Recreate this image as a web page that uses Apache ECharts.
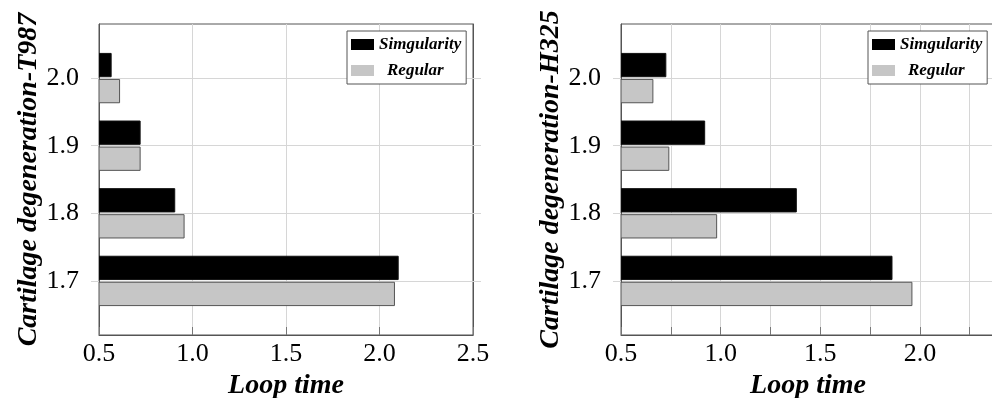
<!DOCTYPE html>
<html>
<head>
<meta charset="utf-8">
<script src="https://cdn.jsdelivr.net/npm/echarts@6/dist/echarts.min.js"></script>
<style>
html,body{margin:0;padding:0;background:#fff;}
#c{width:992px;height:398px;}
</style>
</head>
<body>
<div id="c"></div>
<script>
// ---- data ----
const degreeLevels = [1.7, 1.8, 1.9, 2.0];
const t987Simgularity = [2.10, 0.905, 0.72, 0.565];
const t987Regular     = [2.08, 0.955, 0.72, 0.61];
const h325Simgularity = [1.86, 1.38, 0.92, 0.725];
const h325Regular     = [1.96, 0.98, 0.74, 0.66];
const yTicks = [1.7, 1.8, 1.9, 2.0];
const seriesNames = ['Simgularity', 'Regular'];
const yTitles = ['Cartilage degeneration-T987', 'Cartilage degeneration-H325'];
const xTitle = 'Loop time';

const SERIF = '"Liberation Serif","Times New Roman",serif';
const GRID_LINE = '#d6d6d6';
const FRAME = '#555';

function pairs(vals){ return vals.map((v,i)=>[v, degreeLevels[i]]); }

function makeRender(side, xMin){
  return function(params, api){
    const x = api.value(0), y = api.value(1);
    const a = api.coord([xMin, y]);
    const b = api.coord([x, y]);
    const step = api.size([0, 0.1])[1];
    const h = step * 0.345;
    const gap = step * 0.04;
    const top = side < 0 ? a[1] - gap/2 - h : a[1] + gap/2;
    return {
      type: 'rect',
      shape: { x: a[0], y: top, width: b[0] - a[0], height: h },
      style: api.style()
    };
  };
}

function yAxisPair(gridIndex, title){
  const common = {
    type: 'value', gridIndex: gridIndex, min: 1.62, max: 2.08, splitNumber: 5
  };
  return [
    Object.assign({}, common, {
      position: 'left',
      name: title, nameLocation: 'middle', nameGap: 56, nameRotate: 90,
      nameTextStyle: { fontFamily: SERIF, fontSize: 28, fontWeight: 'bold', fontStyle: 'italic', color: '#000' },
      axisLine: { show: true, lineStyle: { color: FRAME, width: 1 } },
      axisTick: { show: true, inside: false, length: 8, lineStyle: { color: GRID_LINE }, customValues: yTicks },
      axisLabel: { show: true, margin: 20, fontFamily: SERIF, fontSize: 26, color: '#000',
                   customValues: yTicks, formatter: v => v.toFixed(1) },
      splitLine: { show: true, lineStyle: { color: GRID_LINE, width: 1 } }
    }),
    Object.assign({}, common, {
      position: 'right',
      axisLine: { show: true, lineStyle: { color: FRAME, width: 1 } },
      axisTick: { show: true, inside: false, length: 8, lineStyle: { color: GRID_LINE }, customValues: yTicks },
      axisLabel: { show: false },
      splitLine: { show: false }
    })
  ];
}

function xAxisFor(gridIndex, max, interval){
  return {
    type: 'value', gridIndex: gridIndex, min: 0.5, max: max, interval: interval,
    name: xTitle, nameLocation: 'middle', nameGap: 33,
    nameTextStyle: { fontFamily: SERIF, fontSize: 28, fontWeight: 'bold', fontStyle: 'italic', color: '#000' },
    axisLine: { show: true, lineStyle: { color: FRAME, width: 1 } },
    axisTick: { show: true, inside: true, length: 8, lineStyle: { color: '#777' } },
    axisLabel: { show: true, margin: 6, fontFamily: SERIF, fontSize: 26, color: '#000',
      showMinLabel: true, showMaxLabel: true,
      formatter: function(v){
        const r = Math.round(v * 2) / 2;
        if (Math.abs(v - r) > 1e-6) return '';
        return r.toFixed(1);
      } },
    splitLine: { show: true, lineStyle: { color: GRID_LINE, width: 1 } }
  };
}

function legendFor(pos){
  return Object.assign({
    orient: 'vertical', top: 31,
    data: seriesNames.map(n => ({ name: n, icon: 'rect' })),
    itemWidth: 23, itemHeight: 11, itemGap: 9,
    padding: [5, 5, 5, 4],
    backgroundColor: '#fff', borderColor: FRAME, borderWidth: 1, borderRadius: 0,
    itemStyle: { borderWidth: 0 },
    formatter: n => n === 'Regular' ? '{r|' + n + '}' : '{s|' + n + '}',
    textStyle: {
      fontFamily: SERIF, fontSize: 17, fontWeight: 'bold', fontStyle: 'italic', color: '#000',
      rich: {
        s: { fontFamily: SERIF, fontSize: 17, fontWeight: 'bold', fontStyle: 'italic', color: '#000' },
        r: { fontFamily: SERIF, fontSize: 17, fontWeight: 'bold', fontStyle: 'italic', color: '#000', padding: [0, 0, 0, 8] }
      }
    }
  }, pos);
}

function barSeries(name, xIdx, yIdx, vals, side, color, border){
  return {
    type: 'custom', name: name, xAxisIndex: xIdx, yAxisIndex: yIdx,
    renderItem: makeRender(side, 0.5),
    encode: { x: 0, y: 1 },
    itemStyle: { color: color, borderColor: border, borderWidth: 1 },
    data: pairs(vals), clip: true, z: 3
  };
}

const gridCommon = { top: 24, width: 374, height: 311, show: true, borderColor: FRAME, borderWidth: 1,
                     backgroundColor: '#fff', containLabel: false, outerBoundsMode: 'none' };

const option = {
  animation: false,
  backgroundColor: '#fff',
  grid: [
    Object.assign({ left: 99 }, gridCommon),
    Object.assign({ left: 621 }, gridCommon)
  ],
  legend: [ legendFor({ left: 347 }), legendFor({ left: 868 }) ],
  xAxis: [ xAxisFor(0, 2.5, 0.5), xAxisFor(1, 2.377, 0.25) ],
  yAxis: yAxisPair(0, yTitles[0]).concat(yAxisPair(1, yTitles[1])),
  series: [
    barSeries(seriesNames[0], 0, 0, t987Simgularity, -1, '#000', '#111'),
    barSeries(seriesNames[1], 0, 0, t987Regular, 1, '#c6c6c6', '#555'),
    barSeries(seriesNames[0], 1, 2, h325Simgularity, -1, '#000', '#111'),
    barSeries(seriesNames[1], 1, 2, h325Regular, 1, '#c6c6c6', '#555')
  ]
};

const chart = echarts.init(document.getElementById('c'), null, { renderer: 'canvas' });
chart.setOption(option);
</script>
</body>
</html>
